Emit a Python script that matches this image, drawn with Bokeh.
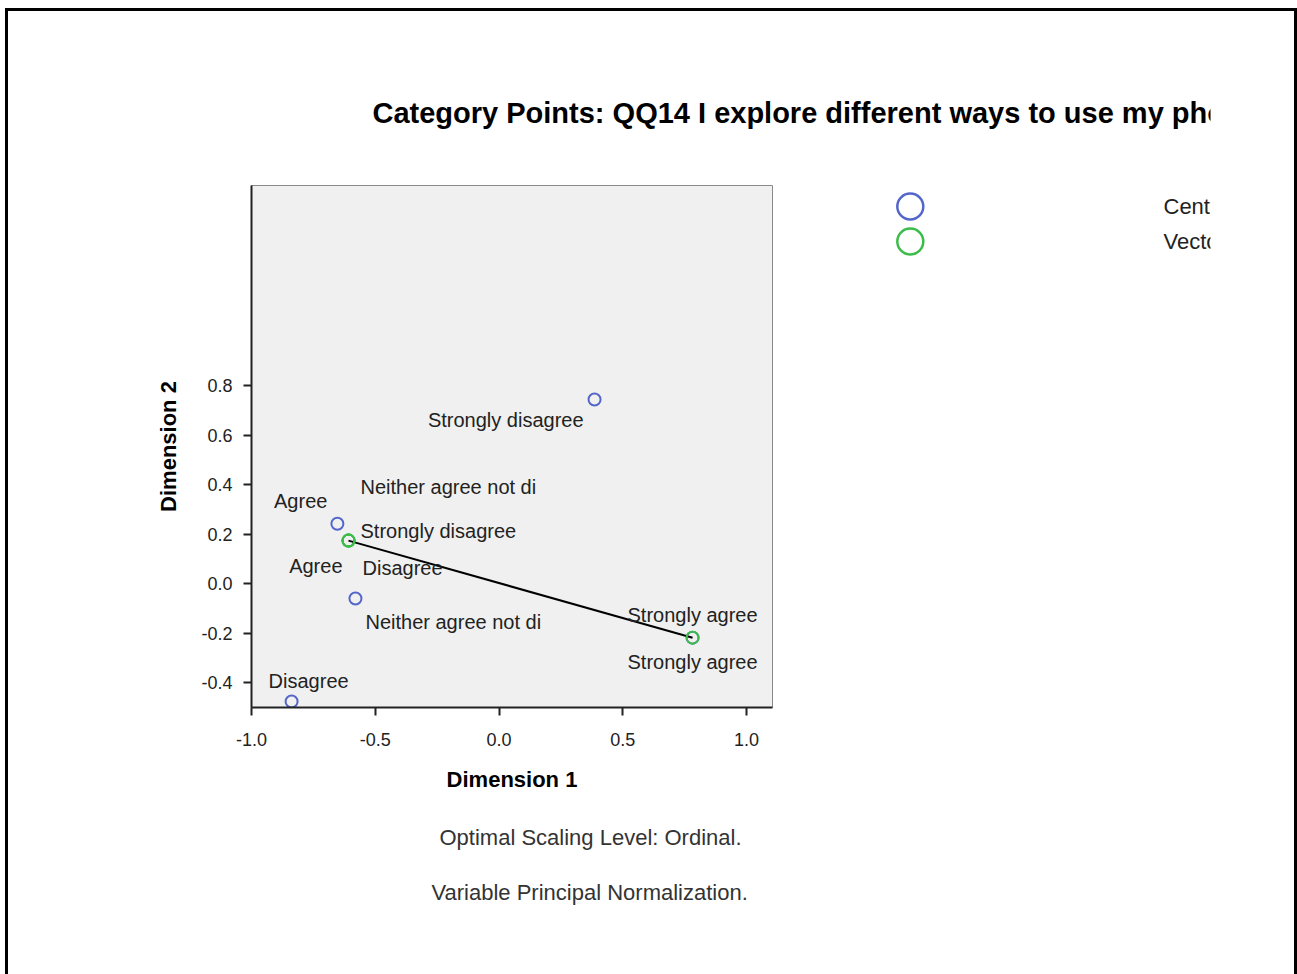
from bokeh.plotting import figure
from bokeh.layouts import column
from bokeh.models import (FixedTicker, Range1d, ColumnDataSource,
                          CustomJSTickFormatter, Title, Label)
from bokeh.core.properties import value
from bokeh.embed import file_html
from bokeh.resources import INLINE

# ---- data ----
categories = ["Strongly disagree", "Disagree", "Neither agree not di", "Agree", "Strongly agree"]
centroid_x = [0.386, -0.838, -0.580, -0.653, 0.782]
centroid_y = [0.745, -0.475, -0.059, 0.243, -0.217]
vector_x = [-0.608, -0.608, -0.608, -0.608, 0.782]
vector_y = [0.175, 0.175, 0.175, 0.175, -0.217]
x_ticks = [-1.0, -0.5, 0.0, 0.5, 1.0]
y_ticks = [-0.4, -0.2, 0.0, 0.2, 0.4, 0.6, 0.8]
series_names = ["Centroid Coordinates", "Vector Coordinates"]
title_text = "Category Points: QQ14 I explore different ways to use my phone (rs)"
footnotes = ["Optimal Scaling Level: Ordinal.", "Variable Principal Normalization."]

# ---- label placement styles (pixel offsets) ----
c_dx = [-11, -23, 10, -10, 0]
c_dy = [21, -21, 23, -23, 24]
c_align = ["right", "left", "left", "right", "center"]
v_dx = [12, 14, 12, -6, 0]
v_dy = [-10, 27, -54, 25, -23]
v_align = ["left", "left", "left", "right", "center"]

FONT = "Liberation Sans"
BLUE = "#5466c9"
GREEN = "#3cbc48"
SERIES_COLORS = [BLUE, GREEN]

W, H = 1297, 974
TOP_H = 150                 # height of the title strip
MAIN_W = 859                # width of the plot part
FL, FW, FH = 251, 521, 522
FT = 185 - TOP_H
MAIN_H = H - TOP_H


def blank(width, height, xr, yr):
    f = figure(width=width, height=height, output_backend="svg", toolbar_location=None,
               title=None, x_axis_type=None, y_axis_type=None, min_border=0,
               x_range=xr, y_range=yr)
    f.grid.visible = False
    f.outline_line_color = None
    f.background_fill_color = None
    f.border_fill_color = None
    return f


# ---------- title strip ----------
pt = blank(W, TOP_H, Range1d(0, 1), Range1d(0, 1))
pt.add_layout(Label(x=121, y=TOP_H - 112, x_units="screen", y_units="screen", text=title_text,
                    text_font=FONT, text_font_style="bold", text_font_size="29px",
                    text_color="black", text_baseline="middle", text_align="left"))

# ---------- main plot ----------
p = figure(width=MAIN_W, height=MAIN_H, output_backend="svg", toolbar_location=None,
           x_range=Range1d(-1.0, 1.105), y_range=Range1d(-0.499, 1.609),
           min_border_left=FL, min_border_top=FT,
           min_border_right=MAIN_W - FL - FW, min_border_bottom=MAIN_H - FT - FH)
p.background_fill_color = "#f0f0f0"
p.border_fill_color = None
p.outline_line_color = "#8a8a8a"
p.outline_line_width = 1
p.grid.visible = False

p.xaxis.ticker = FixedTicker(ticks=x_ticks)
p.yaxis.ticker = FixedTicker(ticks=y_ticks)
fmt = CustomJSTickFormatter(code="return tick.toFixed(1);")
p.xaxis.formatter = fmt
p.yaxis.formatter = fmt
for ax in (p.xaxis, p.yaxis):
    ax.axis_line_color = "#222222"
    ax.axis_line_width = 2
    ax.major_tick_line_color = "#222222"
    ax.major_tick_line_width = 2
    ax.major_tick_out = 8
    ax.major_tick_in = 0
    ax.minor_tick_line_color = None
    ax.major_label_text_font = FONT
    ax.major_label_text_font_size = "18px"
    ax.major_label_text_color = "#222222"
    ax.axis_label_text_font = FONT
    ax.axis_label_text_font_style = "bold"
    ax.axis_label_text_font_size = "22px"
    ax.axis_label_text_color = "black"
p.xaxis.axis_label = "Dimension 1"
p.yaxis.axis_label = "Dimension 2"
p.xaxis.major_label_standoff = 17
p.xaxis.axis_label_standoff = 18
p.yaxis.major_label_standoff = 11
p.yaxis.axis_label_standoff = 17

p.line(vector_x, vector_y, line_color="black", line_width=2)

c_src = ColumnDataSource(dict(x=centroid_x, y=centroid_y, t=categories, dx=c_dx, dy=c_dy, al=c_align))
v_src = ColumnDataSource(dict(x=vector_x, y=vector_y, t=categories, dx=v_dx, dy=v_dy, al=v_align))

p.scatter("x", "y", source=c_src, size=12, marker="circle", fill_color=None,
          line_color=BLUE, line_width=2)
p.scatter("x", "y", source=v_src, size=12, marker="circle", fill_color=None,
          line_color=GREEN, line_width=2)

for src in (c_src, v_src):
    p.text("x", "y", text="t", source=src, x_offset="dx", y_offset="dy", text_align="al",
           text_baseline="middle", text_font=value(FONT), text_font_size="20px",
           text_color="#222222")

for ft, off, so in zip(footnotes, [188, 180], [56, 0]):
    p.add_layout(Title(text=ft, align="left", offset=off, standoff=so,
                       text_font=FONT, text_font_style="normal", text_font_size="22px",
                       text_color="#333333"), "below")

# ---------- legend strip, laid over the top of the plot part ----------
LEG_H = 130
LEG_SWATCH_X = 891          # pixel x of legend swatches
LEG_TEXT_X = 912            # pixel x where legend texts start
LEG_ROWS = [206, 241]       # page y of legend rows
pl = blank(W, LEG_H, Range1d(0, W), Range1d(LEG_H, 0))
pl.scatter([LEG_SWATCH_X] * 2, [r - TOP_H for r in LEG_ROWS], marker="circle", size=26,
           fill_color=None, line_color=SERIES_COLORS, line_width=2.5)
for name, r in zip(series_names, LEG_ROWS):
    pl.add_layout(Label(x=LEG_TEXT_X, y=LEG_H - (r - TOP_H), x_units="screen", y_units="screen",
                        text=name, text_font=FONT, text_font_size="22px", text_color="#222222",
                        text_baseline="middle", text_align="left"))
pl.styles = {"margin-top": f"-{MAIN_H}px"}

page = column(pt, p, pl, spacing=0)
page.styles = {
    "min-height": f"{H}px",
    "background-image": "linear-gradient(#000,#000), linear-gradient(#000,#000), linear-gradient(#000,#000)",
    "background-size": "3px 970px, 1291px 3px, 3px 970px",
    "background-position": "5px 8px, 5px 8px, 1294px 8px",
    "background-repeat": "no-repeat",
}

open("out.html", "w").write(file_html(page, INLINE))
